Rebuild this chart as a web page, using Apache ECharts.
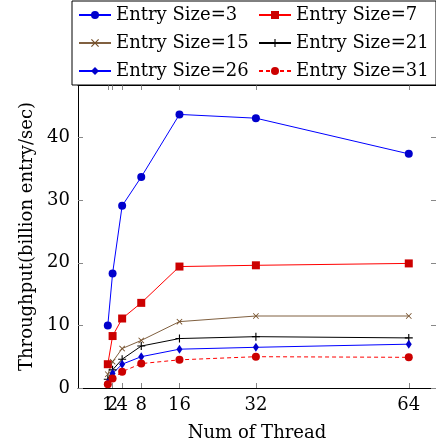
<!DOCTYPE html>
<html>
<head>
<meta charset="utf-8">
<script src="https://cdn.jsdelivr.net/npm/echarts@6/dist/echarts.min.js"></script>
<style>
html,body{margin:0;padding:0;background:#fff;}
#chart{width:436px;height:448px;}
</style>
</head>
<body>
<div id="chart"></div>
<script>
// ---- data ----
var threads = [1, 2, 4, 8, 16, 32, 64];
var xTicks = [1, 2, 4, 8, 16, 32, 64];
var xLabelsMain = [1, 4, 8, 16, 32, 64];   // "2" drawn by an overlay axis (it overlaps "1")
var xLabelsExtra = [2];
var yTicks = [0, 10, 20, 30, 40];
var seriesNames = ['Entry Size=3', 'Entry Size=7', 'Entry Size=15', 'Entry Size=21', 'Entry Size=26', 'Entry Size=31'];
var size3  = [10.0, 18.3, 29.1, 33.7, 43.7, 43.1, 37.4];
var size7  = [3.8, 8.3, 11.1, 13.6, 19.4, 19.6, 19.9];
var size15 = [2.2, 4.2, 6.3, 7.6, 10.6, 11.5, 11.5];
var size21 = [1.4, 2.9, 4.6, 6.7, 7.9, 8.2, 8.0];
var size26 = [0.8, 2.3, 3.8, 5.0, 6.2, 6.5, 7.0];
var size31 = [0.6, 1.5, 2.6, 3.9, 4.5, 5.0, 4.9];

function pairs(xs, ys) { return xs.map(function (x, i) { return [x, ys[i]]; }); }

var FONT = 'DejaVu Serif';
var X_PATH = 'path://M0,1L1,0L5,4L9,0L10,1L6,5L10,9L9,10L5,6L1,10L0,9L4,5Z';
var PLUS_PATH = 'path://M4.3,0H5.7V4.3H10V5.7H5.7V10H4.3V5.7H0V4.3H4.3Z';
var X_MIN = -5.24, X_MAX = 69.7, Y_MIN = 0, Y_MAX = 48.4;

function mkSeries(name, ys, symbol, symbolSize, fill, line, dashed) {
  return {
    name: name,
    type: 'line',
    data: pairs(threads, ys),
    symbol: symbol,
    symbolSize: symbolSize,
    showSymbol: true,
    itemStyle: { color: fill, borderWidth: 0 },
    lineStyle: { color: line, width: 1, type: dashed ? [4, 3] : 'solid' },
    emphasis: { disabled: true },
    xAxisIndex: 0, yAxisIndex: 0
  };
}

var chart = echarts.init(document.getElementById('chart'), null, { renderer: 'canvas' });
var tickStyle = { show: true, inside: true, length: 5, lineStyle: { color: '#888', width: 1 } };
var lineStyleBlack = { show: true, onZero: false, lineStyle: { color: '#000', width: 1 } };
var labelBase = { showMinLabel: true, showMaxLabel: true, hideOverlap: false, fontFamily: FONT, fontSize: 18, color: '#000' };
var option = {
  animation: false,
  backgroundColor: '#fff',
  textStyle: { fontFamily: FONT },
  grid: { left: 78, top: 85, width: 360, bottom: 60 },
  legend: {
    left: 72, top: 1, width: 364,
    padding: [2, 2, 2, 6],
    itemGap: 4,
    itemWidth: 32, itemHeight: 10,
    borderColor: '#000', borderWidth: 1, borderRadius: 0,
    backgroundColor: '#fff',
    textStyle: { fontFamily: FONT, fontSize: 18, color: '#000', width: 138, lineHeight: 24 },
    data: seriesNames
  },
  xAxis: [{
    type: 'value', min: X_MIN, max: X_MAX, position: 'bottom',
    name: 'Num of Thread', nameLocation: 'middle', nameGap: 36,
    nameTextStyle: { fontFamily: FONT, fontSize: 18, color: '#000' },
    axisLine: lineStyleBlack,
    axisTick: Object.assign({ customValues: xTicks }, tickStyle),
    axisLabel: Object.assign({ customValues: xLabelsMain, margin: 8 }, labelBase),
    splitLine: { show: false }
  }, {
    type: 'value', min: X_MIN, max: X_MAX, position: 'top',
    axisLine: lineStyleBlack,
    axisTick: Object.assign({ customValues: xTicks }, tickStyle),
    axisLabel: { show: false },
    splitLine: { show: false }
  }, {
    type: 'value', min: X_MIN, max: X_MAX, position: 'bottom', offset: 0,
    axisLine: { show: false, onZero: false },
    axisTick: { show: false },
    axisLabel: Object.assign({ customValues: xLabelsExtra, margin: 8 }, labelBase),
    splitLine: { show: false }
  }],
  yAxis: [{
    type: 'value', min: Y_MIN, max: Y_MAX, position: 'left',
    name: 'Throughput(billion entry/sec)', nameLocation: 'middle', nameGap: 41,
    nameTextStyle: { fontFamily: FONT, fontSize: 18, color: '#000' },
    axisLine: lineStyleBlack,
    axisTick: Object.assign({ customValues: yTicks }, tickStyle),
    axisLabel: Object.assign({ customValues: yTicks, margin: 8 }, labelBase),
    splitLine: { show: false }
  }, {
    type: 'value', min: Y_MIN, max: Y_MAX, position: 'right',
    axisLine: lineStyleBlack,
    axisTick: Object.assign({ customValues: yTicks }, tickStyle),
    axisLabel: { show: false },
    splitLine: { show: false }
  }],
  series: [
    mkSeries(seriesNames[0], size3, 'circle', 8, '#0000cc', '#0000ff', false),
    mkSeries(seriesNames[1], size7, 'rect', 8, '#cc0000', '#ff0000', false),
    mkSeries(seriesNames[2], size15, X_PATH, 6, '#734d26', '#806040', false),
    mkSeries(seriesNames[3], size21, PLUS_PATH, 8, '#000000', '#000000', false),
    mkSeries(seriesNames[4], size26, 'diamond', [6, 9], '#0000cc', '#0000ff', false),
    mkSeries(seriesNames[5], size31, 'circle', 8, '#cc0000', '#ff0000', true)
  ]
};
chart.setOption(option);
</script>
</body>
</html>
